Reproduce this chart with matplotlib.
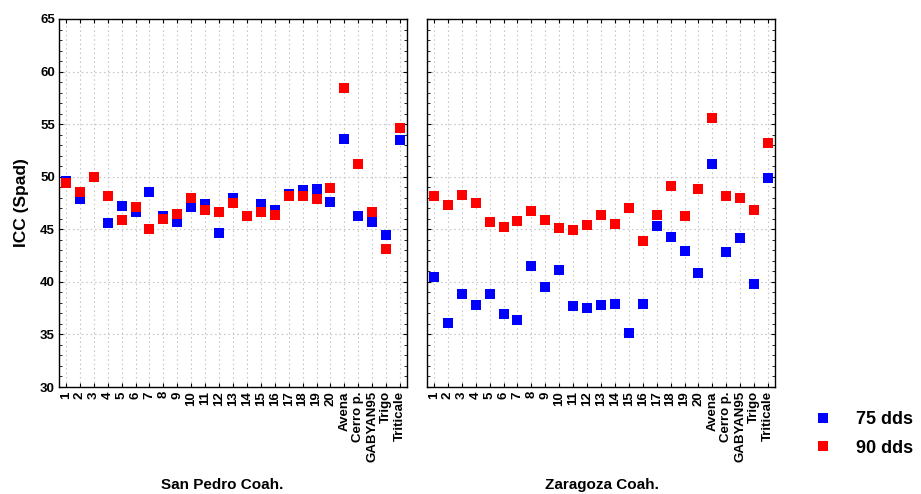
import matplotlib
matplotlib.use("Agg")
import matplotlib.pyplot as plt
from matplotlib.ticker import MultipleLocator

plt.rcParams["font.family"] = ["Liberation Sans", "DejaVu Sans"]
plt.rcParams["font.weight"] = "bold"

genotipos = [str(i) for i in range(1, 21)] + ["Avena", "Cerro p.", "GABYAN95", "Trigo", "Triticale"]

# San Pedro Coah.
sp_75 = [49.6, 47.9, 50.0, 45.6, 47.2, 46.6, 48.5, 46.3, 45.7, 47.1,
         47.4, 44.6, 48.0, 46.3, 47.4, 46.8, 48.4, 48.7, 48.8, 47.6,
         53.6, 46.3, 45.7, 44.5, 53.5]
sp_90 = [49.4, 48.5, 50.0, 48.2, 45.9, 47.1, 45.0, 46.0, 46.5, 48.0,
         46.8, 46.6, 47.5, 46.3, 46.6, 46.4, 48.2, 48.2, 47.9, 48.9,
         58.4, 51.2, 46.6, 43.1, 54.6]

# Zaragoza Coah.
za_75 = [40.5, 36.1, 38.8, 37.8, 38.8, 36.9, 36.4, 41.5, 39.5, 41.1,
         37.7, 37.5, 37.8, 37.9, 35.1, 37.9, 45.3, 44.3, 42.9, 40.8,
         51.2, 42.8, 44.2, 39.8, 49.9]
za_90 = [48.2, 47.3, 48.3, 47.5, 45.7, 45.2, 45.8, 46.7, 45.9, 45.1,
         44.9, 45.4, 46.4, 45.5, 47.0, 43.9, 46.4, 49.1, 46.3, 48.8,
         55.6, 48.2, 48.0, 46.8, 53.2]

fig = plt.figure(figsize=(9.21, 4.94), dpi=100)
ax1 = fig.add_axes([59 / 921, 107 / 494, 348 / 921, 368 / 494])
ax2 = fig.add_axes([427 / 921, 107 / 494, 348 / 921, 368 / 494])

x = list(range(len(genotipos)))
for ax, v75, v90 in [(ax1, sp_75, sp_90), (ax2, za_75, za_90)]:
    h75, = ax.plot(x, v75, "s", color="#0000ff", markersize=7.6, markeredgewidth=0, label="75 dds", zorder=3)
    h90, = ax.plot(x, v90, "s", color="#ff0000", markersize=7.6, markeredgewidth=0, label="90 dds", zorder=4)
    ax.set_xlim(-0.5, len(genotipos) - 0.5)
    ax.set_ylim(30, 65)
    ax.set_xticks(x)
    ax.set_xticklabels(genotipos, rotation=90, fontsize=9.5, fontweight="bold")
    ax.yaxis.set_major_locator(MultipleLocator(5))
    ax.yaxis.set_minor_locator(MultipleLocator(1))
    ax.tick_params(which="both", direction="in", top=True, right=True, color="black")
    ax.tick_params(which="major", length=3, width=0.8, pad=3)
    ax.tick_params(which="minor", length=2, width=0.6)
    ax.grid(True, which="major", linestyle=(0, (1.5, 2.5)), color="#c8c8c8", linewidth=0.8)
    ax.set_axisbelow(True)
    for s in ax.spines.values():
        s.set_linewidth(1.0)

ax1.tick_params(axis="y", labelsize=9.5)
for lab in ax1.get_yticklabels():
    lab.set_fontweight("bold")
ax2.tick_params(axis="y", labelleft=False)

ax1.set_ylabel("ICC (Spad)", fontsize=12.5, fontweight="bold", labelpad=8)

fig.text(222 / 921, 9 / 494, "San Pedro Coah.", ha="center", va="center", fontsize=11, fontweight="bold")
fig.text(602 / 921, 9 / 494, "Zaragoza Coah.", ha="center", va="center", fontsize=11, fontweight="bold")

fig.legend(handles=[h75, h90], loc="center left", bbox_to_anchor=(805 / 921, 1 - 434 / 494),
           frameon=False, prop={"size": 13, "weight": "bold"}, handletextpad=1.25,
           labelspacing=0.62, handlelength=1.2, borderpad=0.4, borderaxespad=0)

fig.savefig("out.png", dpi=100)
